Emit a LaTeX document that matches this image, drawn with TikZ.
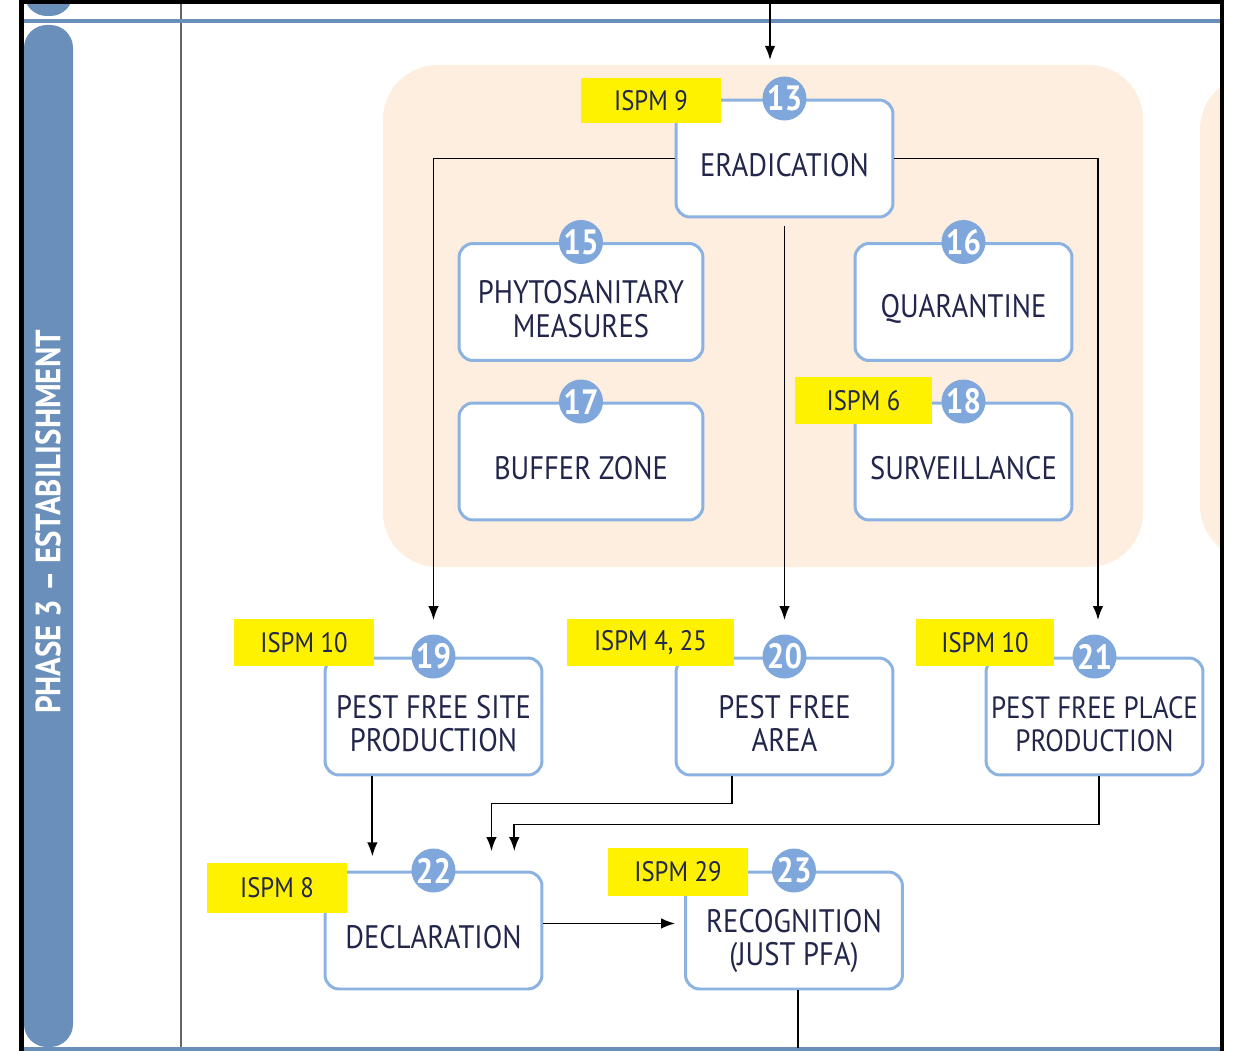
\documentclass[tikz,border=0pt]{standalone}
\usepackage{fontspec}
\setmainfont{PT Sans}[FakeStretch=0.88]
\usetikzlibrary{positioning, arrows.meta}

\definecolor{phaseblue}{HTML}{6A8FBB}
\definecolor{boxblue}{HTML}{8CB2E2}
\definecolor{numblue}{HTML}{7FA7DC}
\definecolor{peach}{HTML}{FDEEDF}
\definecolor{ispmyellow}{HTML}{FFF200}
\definecolor{textnavy}{HTML}{22264A}

\begin{document}
\begin{tikzpicture}[x=0.02cm, y=-0.02cm,
    >={Latex[length=8pt,width=6pt]},
    link/.style={->, line width=1.1pt},
    stagebox/.style={draw=boxblue, line width=1.7pt, rounded corners=8pt, fill=white,
        minimum width=4.34cm, minimum height=2.34cm, align=center, text=textnavy, inner xsep=1pt,
        font=\fontsize{18.5}{19}\selectfont, execute at begin node={\rule{0pt}{21pt}}},
    twoline/.style={text height=40pt, text depth=0pt},
    widebox/.style={stagebox, minimum width=4.88cm},
    num/.style={circle, fill=numblue, minimum size=0.88cm, inner sep=0pt, text=white,
        font=\bfseries\fontsize{20}{20}\selectfont},
    ispm/.style={fill=ispmyellow, minimum width=2.8cm, minimum height=0.96cm, inner sep=0pt,
        text=textnavy, font=\fontsize{16}{16}\selectfont}]
    \useasboundingbox (0,0) rectangle (1235,1051);

    % backgrounds
    \fill[peach, rounded corners=31pt] (383,65) rectangle (1143,567);
    \begin{scope}
        \clip (0,0) rectangle (1221,1051);
        \fill[peach, rounded corners=31pt] (1200,75) rectangle (1320,560);
    \end{scope}
    \draw[gray!80!black, line width=1.1pt] (181,0) -- (181,1051);

    % phase bar
    \fill[phaseblue, rounded corners=13pt] (24,-40) rectangle (73,16);
    \fill[phaseblue, rounded corners=13pt] (24,25) rectangle (73,1047);
    \draw[phaseblue, line width=2.8pt] (24,21) -- (1220,21);
    \draw[phaseblue, line width=2.3pt] (24,1049) -- (1220,1049);
    \node[rotate=90, text=white, font=\bfseries\fontsize{20}{20}\selectfont] (phase) at (48,522) {PHASE 3 – ESTABILISHMENT};
    \draw[line width=2.3pt] (21.5,1051) -- (21.5,2) -- (1222,2) -- (1222,1051);

    % stages
    \node[stagebox] (erad) at (784.5,158.5) {ERADICATION};
    \node[widebox, twoline] (phyto) at (581,302) {PHYTOSANITARY\\MEASURES};
    \node[stagebox] (quar) at (963.5,302) {QUARANTINE};
    \node[widebox] (buffer) at (581,461.5) {BUFFER ZONE};
    \node[stagebox] (surv) at (963.5,461.5) {SURVEILLANCE};
    \node[stagebox, twoline] (pfsp) at (433.5,716.5) {PEST FREE SITE\\PRODUCTION};
    \node[stagebox, twoline] (pfa) at (784.5,716.5) {PEST FREE\\AREA};
    \node[stagebox, twoline, font=\fontsize{17.5}{19}\selectfont] (pfpp) at (1094.5,716.5) {PEST FREE PLACE\\PRODUCTION};
    \node[stagebox] (decl) at (433.5,930.5) {DECLARATION};
    \node[stagebox, twoline] (recog) at (794,930.5) {RECOGNITION\\(JUST PFA)};

    % numbers
    \node[num] (c13) at (erad.north) {13};
    \node[num] (c15) at (phyto.north) {15};
    \node[num] (c16) at (quar.north) {16};
    \node[num] (c17) at (buffer.north) {17};
    \node[num] (c18) at (surv.north) {18};
    \node[num] (c19) at (pfsp.north) {19};
    \node[num] (c20) at (pfa.north) {20};
    \node[num] (c21) at (pfpp.north) {21};
    \node[num] (c22) at (decl.north) {22};
    \node[num] (c23) at (recog.north) {23};

    % standards
    \node[ispm, minimum height=0.9cm] (t13) at (651,100.5) {ISPM 9};
    \node[ispm, minimum width=2.74cm] (t18) at (863.5,400.5) {ISPM 6};
    \node[ispm] (t19) at (304,642.5) {ISPM 10};
    \node[ispm, minimum width=3.34cm] (t20) at (650.5,642.5) {ISPM 4, 25};
    \node[ispm, minimum width=2.76cm] (t21) at (985,642.5) {ISPM 10};
    \node[ispm, minimum height=1cm] (t22) at (277,888) {ISPM 8};
    \node[ispm] (t23) at (678,871.5) {ISPM 29};

    % links
    \coordinate (topin) at (770,0);
    \coordinate (bottomline) at (0,1048);
    \draw[link] (topin) -- ++(0,60);
    \draw[link] (erad.west) -| ([yshift=8pt]c19.north);
    \draw[link] (erad.east) -| ([xshift=2pt,yshift=8pt]c21.north);
    \draw[link] ([yshift=-4.5pt]erad.south) -- ([yshift=8pt]c20.north);
    \draw[link] ([xshift=27.8pt]pfsp.south west) -- ([xshift=27.8pt,yshift=8pt]decl.north west);
    \draw[link] ([xshift=-30pt]pfa.south) -- ++(0,27) -| ([xshift=33pt,yshift=11pt]decl.north);
    \draw[link] ([xshift=2.5pt]pfpp.south) -- ++(0,48) -| ([xshift=46pt,yshift=11pt]decl.north);
    \draw[link] ([yshift=4pt]decl.east) -- ([yshift=4pt,xshift=-5pt]recog.west);
    \draw[line width=1.1pt] ([xshift=2.5pt]recog.south) -- ([xshift=2.5pt]recog.south |- bottomline);
\end{tikzpicture}
\end{document}
